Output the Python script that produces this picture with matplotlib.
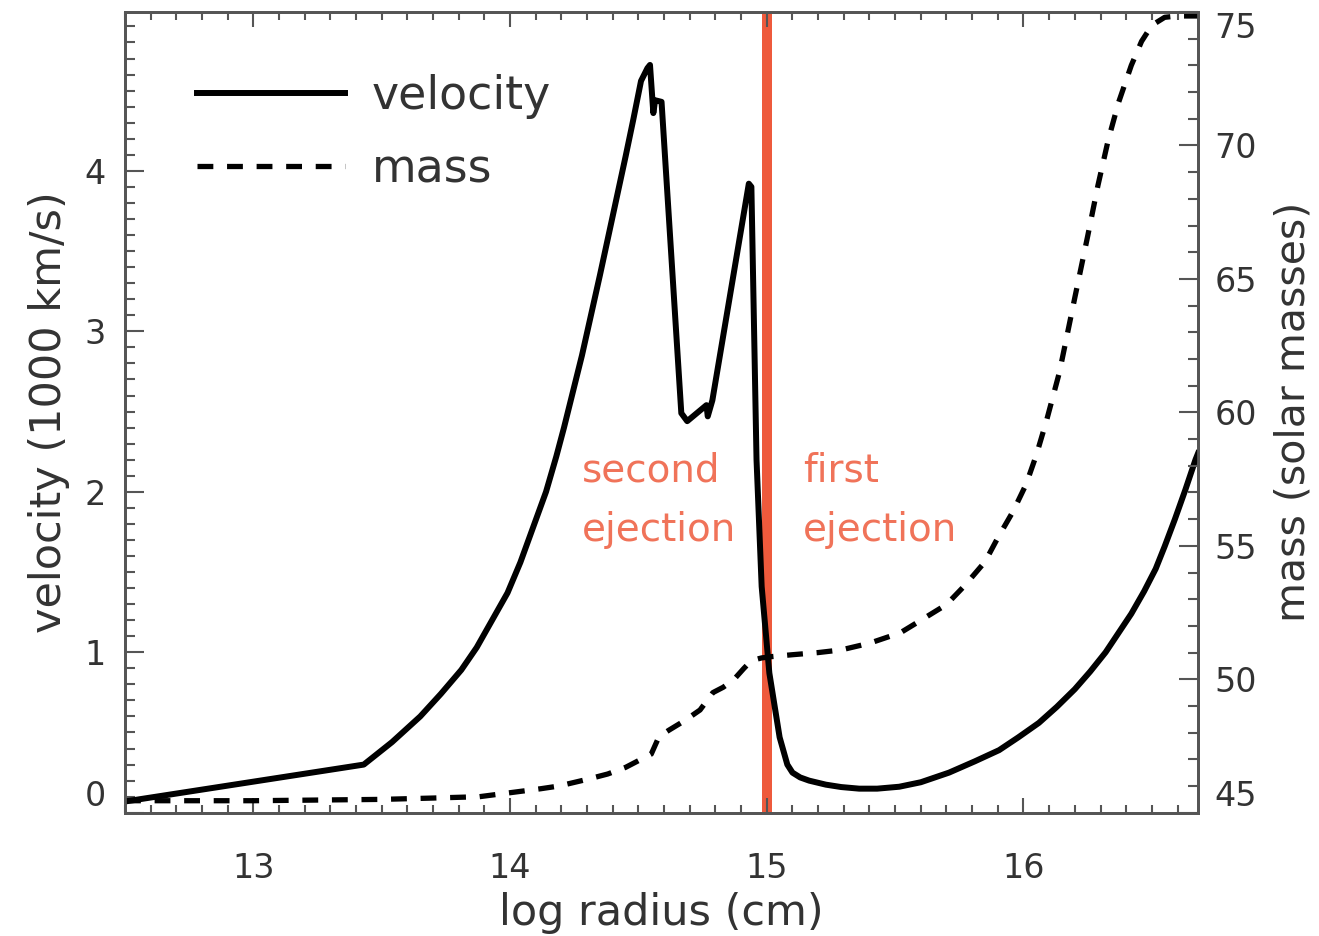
import matplotlib
matplotlib.use("Agg")
import matplotlib.pyplot as plt
from matplotlib.ticker import MultipleLocator

# velocity profile (log radius, 1000 km/s)
vel_r = [12.50, 13.43, 13.54, 13.65, 13.73, 13.81, 13.87, 13.93, 13.99, 14.04,
         14.09, 14.14, 14.18, 14.21, 14.28, 14.35, 14.40, 14.45, 14.48, 14.51,
         14.535, 14.545, 14.558, 14.565, 14.59, 14.667, 14.69, 14.765, 14.77, 14.788,
         14.93, 14.94, 14.96, 14.98, 15.01, 15.05, 15.08, 15.10, 15.13, 15.165,
         15.23, 15.29, 15.36, 15.43, 15.516, 15.60, 15.71, 15.81, 15.905, 15.98,
         16.06, 16.13, 16.20, 16.26, 16.32, 16.37, 16.42, 16.47, 16.515, 16.55,
         16.59, 16.63, 16.67, 16.68]
vel_v = [0.07, 0.30, 0.44, 0.60, 0.74, 0.89, 1.03, 1.20, 1.37, 1.56,
         1.78, 2.00, 2.22, 2.40, 2.85, 3.35, 3.72, 4.09, 4.32, 4.56,
         4.64, 4.66, 4.36, 4.44, 4.43, 2.49, 2.44, 2.54, 2.47, 2.57,
         3.92, 3.90, 2.20, 1.41, 0.87, 0.47, 0.30, 0.25, 0.22, 0.20,
         0.175, 0.16, 0.15, 0.15, 0.162, 0.19, 0.25, 0.32, 0.39, 0.47,
         0.56, 0.66, 0.77, 0.88, 1.00, 1.12, 1.24, 1.38, 1.52, 1.66,
         1.83, 2.01, 2.20, 2.24]

# enclosed mass (solar masses)
mass_r = [12.50, 13.00, 13.50, 13.70, 13.88, 13.96, 14.04, 14.12, 14.19, 14.30,
          14.38, 14.45, 14.50, 14.55, 14.58, 14.62, 14.68, 14.74, 14.79, 14.83,
          14.87, 14.91, 14.94, 14.98, 15.02, 15.10, 15.20, 15.29, 15.40, 15.52,
          15.59, 15.70, 15.77, 15.85, 15.90, 15.96, 16.01, 16.05, 16.09, 16.14,
          16.17, 16.20, 16.25, 16.29, 16.33, 16.37, 16.42, 16.46, 16.50, 16.55,
          16.60, 16.68]
mass_m = [45.45, 45.45, 45.5, 45.55, 45.6, 45.7, 45.8, 45.9, 46.0, 46.25,
          46.45, 46.7, 46.95, 47.2, 47.85, 48.1, 48.45, 48.85, 49.5, 49.7,
          49.97, 50.4, 50.7, 50.8, 50.85, 50.92, 51.0, 51.1, 51.35, 51.74,
          52.15, 52.8, 53.5, 54.4, 55.3, 56.3, 57.3, 58.4, 59.7, 61.5,
          62.9, 64.3, 66.6, 68.5, 70.2, 71.6, 73.0, 73.9, 74.5, 74.8,
          74.85, 74.85]

ejection_r = 15.0
x_ticks = [13, 14, 15, 16]
v_ticks = [0, 1, 2, 3, 4]
m_ticks = [45, 50, 55, 60, 65, 70, 75]

txt = '#333333'
red = '#EE5A3C'
plt.rcParams['font.family'] = ['DejaVu Sans']

fig = plt.figure(figsize=(13.19, 9.36), dpi=100)
ax = fig.add_axes([0.0948, 0.1317, 0.8135, 0.8555])
ax2 = ax.twinx()

ax.axvline(ejection_r, color=red, lw=7.2, zorder=1)
l1, = ax.plot(vel_r, vel_v, color='black', lw=4.3, zorder=3, label='velocity',
              solid_joinstyle='round')
l2, = ax2.plot(mass_r, mass_m, color='black', lw=3.8, ls=(0, (3.0, 2.6)), label='mass')

ax.set_xlim(12.5, 16.68)
ax.set_ylim(0, 4.99)
ax2.set_ylim(45, 75)

ax.set_xticks(x_ticks)
ax.xaxis.set_minor_locator(MultipleLocator(0.1))
ax.set_yticks(v_ticks)
ax.yaxis.set_minor_locator(MultipleLocator(0.1))
ax2.set_yticks(m_ticks)
ax2.yaxis.set_minor_locator(MultipleLocator(1))

ax.tick_params(axis='x', which='both', direction='in', top=True, colors='#555555',
               labelcolor=txt, labelsize=24, width=1.5, pad=28)
ax.tick_params(axis='x', which='major', length=11)
ax.tick_params(axis='x', which='minor', length=6)
ax.tick_params(axis='y', which='both', direction='in', right=False, colors='#555555',
               labelcolor=txt, labelsize=24, width=1.5, pad=14)
ax.tick_params(axis='y', which='major', length=14)
ax.tick_params(axis='y', which='minor', length=7)
ax2.tick_params(axis='y', which='both', direction='in', colors='#555555',
                labelcolor=txt, labelsize=24, width=1.5, pad=12)
ax2.tick_params(axis='y', which='major', length=14)
ax2.tick_params(axis='y', which='minor', length=7)

for a in (ax, ax2):
    for s in a.spines.values():
        s.set_color('#555555')
        s.set_linewidth(2)

ax.set_xlabel('log radius (cm)', fontsize=31, color=txt, labelpad=5)
ax.set_ylabel('velocity (1000 km/s)', fontsize=31, color=txt, labelpad=10)
ax2.set_ylabel('mass (solar masses)', fontsize=29.5, color=txt, labelpad=12)

ax.text(14.28, 2.13, 'second', fontsize=28, color=red, alpha=0.85, ha='left', va='center')
ax.text(14.28, 1.76, 'ejection', fontsize=28, color=red, alpha=0.85, ha='left', va='center')
ax.text(15.14, 2.13, 'first', fontsize=28, color=red, alpha=0.85, ha='left', va='center')
ax.text(15.14, 1.76, 'ejection', fontsize=28, color=red, alpha=0.85, ha='left', va='center')

leg = ax.legend(handles=[l1, l2], loc='upper left', bbox_to_anchor=(0.067, 0.9225),
                frameon=False, fontsize=33, handlelength=3.23, handletextpad=0.59,
                labelspacing=0.62, borderaxespad=0, borderpad=0)
for t in leg.get_texts():
    t.set_color(txt)

# end labels sit inside the axis range like the original
ax.get_yticklabels()[0].set_va('bottom')
ax2.get_yticklabels()[0].set_va('bottom')
ax2.get_yticklabels()[-1].set_va('top')

fig.savefig('out.png', dpi=100)
